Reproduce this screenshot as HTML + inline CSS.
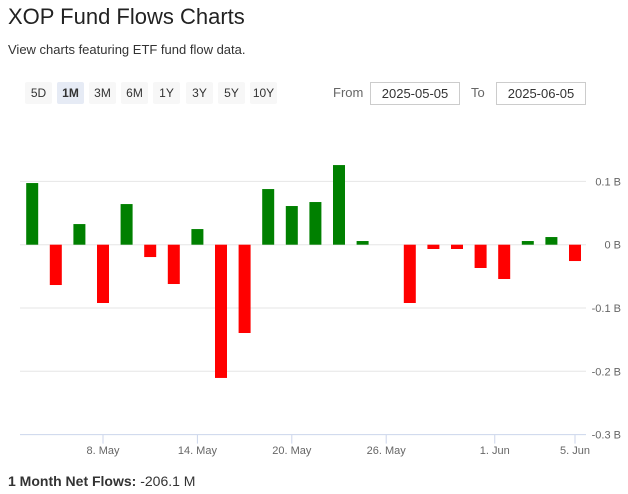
<!DOCTYPE html>
<html><head><meta charset="utf-8"><style>
body{margin:0;width:628px;height:494px;background:#fff;font-family:"Liberation Sans",sans-serif;color:#333;position:relative;overflow:hidden}
.abs{position:absolute}
.btn{position:absolute;top:82px;height:22px;width:27px;background:#f7f7f7;border-radius:2px;font-size:12px;line-height:22px;text-align:center;color:#333}
.inp{position:absolute;top:82px;height:21px;width:88px;border:1px solid #ccc;font-size:13px;line-height:21px;text-align:center;color:#333}
</style></head><body>
<div class="abs" style="left:8px;top:4px;font-size:22px;color:#222">XOP Fund Flows Charts</div>
<div class="abs" style="left:8px;top:42px;font-size:13px">View charts featuring ETF fund flow data.</div>
<div class="btn" style="left:25px">5D</div>
<div class="btn" style="left:57px;background:#e6ebf5;font-weight:bold">1M</div>
<div class="btn" style="left:89px">3M</div>
<div class="btn" style="left:121px">6M</div>
<div class="btn" style="left:153px">1Y</div>
<div class="btn" style="left:186px">3Y</div>
<div class="btn" style="left:218px">5Y</div>
<div class="btn" style="left:250px">10Y</div>
<div class="abs" style="left:333px;top:85px;font-size:13px;color:#666">From</div>
<div class="inp" style="left:370px">2025-05-05</div>
<div class="abs" style="left:471px;top:85px;font-size:13px;color:#666">To</div>
<div class="inp" style="left:496px">2025-06-05</div>
<svg id="chart" class="abs" style="left:0;top:0" width="628" height="494"></svg>
<div class="abs" style="left:8px;top:473px;font-size:14px"><b>1 Month Net Flows:</b> -206.1 M</div>
<script>
const categories=["May 5","May 6","May 7","May 8","May 9","May 12","May 13","May 14","May 15","May 16","May 19","May 20","May 21","May 22","May 23","May 26","May 27","May 28","May 29","May 30","Jun 2","Jun 3","Jun 4","Jun 5"];
const flows=[0.0974,-0.0637,0.0326,-0.0921,0.0642,-0.0195,-0.0621,0.0247,-0.2105,-0.1395,0.0879,0.0611,0.0674,0.1258,0.0058,0,-0.0921,-0.0068,-0.0068,-0.0368,-0.0542,0.0058,0.0121,-0.0258];
const yTicks=[0.1,0,-0.1,-0.2,-0.3];
const yTickLabels=["0.1 B","0 B","-0.1 B","-0.2 B","-0.3 B"];
const xTickPos=[3,7,11,15,19.6,23];
const xTickLabels=["8. May","14. May","20. May","26. May","1. Jun","5. Jun"];
const NS="http://www.w3.org/2000/svg";
const svg=document.getElementById('chart');
const x=i=>32.2+i*23.6;
const y=v=>244.7-v*633;
function mk(t,a){const e=document.createElementNS(NS,t);for(const k in a)e.setAttribute(k,a[k]);svg.appendChild(e);return e;}
yTicks.forEach((v,i)=>{
  if(i<yTicks.length-1){const g=mk('line',{x1:20,x2:586,y1:y(v),y2:y(v),stroke:'#e6e6e6','stroke-width':1});
  
  }
  const t=mk('text',{x:621,y:y(v)+4,'text-anchor':'end','font-size':11,fill:'#666','font-family':'Liberation Sans, sans-serif'});
  t.textContent=yTickLabels[i];
  
  
});
const ax=mk('line',{x1:20,x2:586,y1:y(-0.3),y2:y(-0.3),stroke:'#ccd6eb','stroke-width':1});


xTickPos.forEach((p,i)=>{
  const l=mk('line',{x1:x(p),x2:x(p),y1:y(-0.3),y2:y(-0.3)+9,stroke:'#ccd6eb'});
  
  
  const t=mk('text',{x:x(p),y:454,'text-anchor':'middle','font-size':11,fill:'#666','font-family':'Liberation Sans, sans-serif'});
  t.textContent=xTickLabels[i];
  
  
});
flows.forEach((v,i)=>{
  if(v===0)return;
  const top=Math.min(y(v),y(0)),h=Math.abs(y(v)-y(0));
  const r=mk('rect',{x:x(i)-6,y:top,width:12,height:h,fill:v>0?'#008000':'#ff0000'});
  
  
});
</script>
</body></html>
